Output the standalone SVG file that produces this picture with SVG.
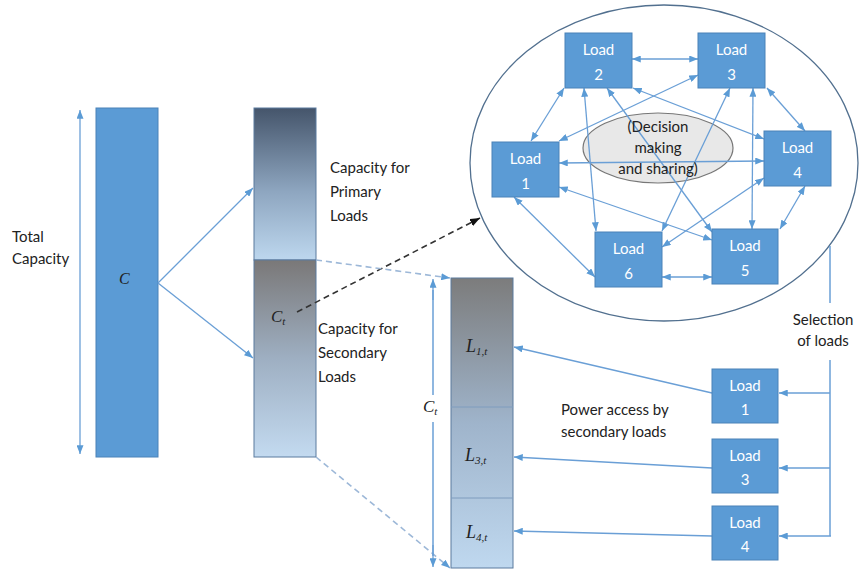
<svg xmlns="http://www.w3.org/2000/svg" width="860" height="572" viewBox="0 0 860 572">
<style>
.t{font-family:Lato,"Liberation Sans",sans-serif;font-size:15px;fill:#222}
.lt{font-family:Lato,"Liberation Sans",sans-serif;font-size:15px;fill:#fff;text-anchor:middle}
.m{font-family:"Liberation Serif","DejaVu Serif",serif;font-style:italic;fill:#222}
.box{fill:#5B9BD5;stroke:#4A82B8;stroke-width:1}
.ar{stroke:#6A9FD6;stroke-width:1.3;fill:none;marker-end:url(#ah)}
.ar2{stroke:#6A9FD6;stroke-width:1.3;fill:none;marker-start:url(#ah);marker-end:url(#ah)}
.ln{stroke:#6A9FD6;stroke-width:1.5;fill:none}
.dl{stroke:#9DB8D8;stroke-width:1.6;stroke-dasharray:6 4;fill:none;marker-end:url(#ah)}
.db{stroke:#333;stroke-width:1.6;stroke-dasharray:6 4;fill:none;marker-end:url(#ahk)}
.bar{stroke:#5A7A9E;stroke-width:1}
</style>
<defs>
<marker id="ah" viewBox="0 0 10 8" refX="10" refY="4" markerWidth="9" markerHeight="7" markerUnits="userSpaceOnUse" orient="auto-start-reverse"><path d="M0,0 L10,4 L0,8 z" fill="#5B9BD5"/></marker>
<marker id="ahk" viewBox="0 0 10 8" refX="10" refY="4" markerWidth="10" markerHeight="8" markerUnits="userSpaceOnUse" orient="auto"><path d="M0,0 L10,4 L0,8 z" fill="#111"/></marker>
<linearGradient id="gPrim" x1="0" y1="0" x2="0" y2="1"><stop offset="0" stop-color="#45556B"/><stop offset="0.55" stop-color="#8EA6C0"/><stop offset="1" stop-color="#BDD7EE"/></linearGradient>
<linearGradient id="gSec" x1="0" y1="0" x2="0" y2="1"><stop offset="0" stop-color="#7A7878"/><stop offset="0.5" stop-color="#9EAFC2"/><stop offset="1" stop-color="#C3DAF0"/></linearGradient>
<linearGradient id="gB3" x1="0" y1="0" x2="0" y2="1"><stop offset="0" stop-color="#7C7C7C"/><stop offset="0.5" stop-color="#9FB4CB"/><stop offset="1" stop-color="#BFD8EF"/></linearGradient>
</defs>

<g id="bar-total">
<rect x="96" y="108" width="62" height="349" fill="#5B9BD5" stroke="#4A82B8"/>
<text class="m" x="119" y="284" font-size="16">C</text>
</g>
<g id="label-total">
<text class="t" x="12" y="242">Total</text>
<text class="t" x="12" y="264">Capacity</text>
</g>

<g id="bar-split">
<rect class="bar" x="254" y="108" width="62" height="152" fill="url(#gPrim)"/>
<rect class="bar" x="254" y="260" width="62" height="197" fill="url(#gSec)"/>
<text class="m" x="271" y="322" font-size="17">C<tspan font-size="11" dy="3">t</tspan></text>
</g>
<g id="label-primary">
<text class="t" x="330" y="173">Capacity for</text>
<text class="t" x="330" y="197">Primary</text>
<text class="t" x="330" y="221">Loads</text>
</g>
<g id="label-secondary">
<text class="t" x="318" y="334">Capacity for</text>
<text class="t" x="318" y="358">Secondary</text>
<text class="t" x="318" y="382">Loads</text>
</g>

<g id="bar-secondary">
<rect class="bar" x="451" y="278" width="62" height="290" fill="url(#gB3)"/>
<line x1="451" y1="407" x2="513" y2="407" stroke="#7E9CBE" stroke-width="1"/>
<line x1="451" y1="498" x2="513" y2="498" stroke="#7E9CBE" stroke-width="1"/>
<text class="m" x="466" y="352" font-size="18">L<tspan font-size="11" dy="3">1,t</tspan></text>
<text class="m" x="465" y="461" font-size="18">L<tspan font-size="11" dy="3">3,t</tspan></text>
<text class="m" x="466" y="538" font-size="18">L<tspan font-size="11" dy="3">4,t</tspan></text>
</g>
<g id="label-ct">
<text class="m" x="423" y="412" font-size="17">C<tspan font-size="11" dy="3">t</tspan></text>
</g>

<g id="cloud">
<ellipse cx="664" cy="163" rx="194" ry="158" fill="none" stroke="#52708F" stroke-width="1.3"/>
<ellipse cx="658" cy="148" rx="75" ry="35" fill="#E8E8E8" stroke="#777" stroke-width="1.2"/>
</g>

<g id="connectors">
<line class="ar2" x1="80" y1="110" x2="80" y2="454"/>
<line class="ar" x1="158" y1="283" x2="253" y2="188"/>
<line class="ar" x1="158" y1="283" x2="253" y2="358"/>
<line class="db" x1="297" y1="312" x2="480" y2="218"/>
<line class="dl" x1="316" y1="260" x2="450" y2="278"/>
<line class="dl" x1="316" y1="457" x2="450" y2="568"/>
<line class="ln" x1="433" y1="290" x2="433" y2="395"/>
<line class="ln" x1="433" y1="422" x2="433" y2="556"/>
<line class="ar" x1="433" y1="300" x2="433" y2="279"/>
<line class="ar" x1="433" y1="545" x2="433" y2="567"/>
<line class="ar2" x1="632" y1="59" x2="698" y2="59"/>
<line class="ar2" x1="564" y1="88" x2="531" y2="141"/>
<line class="ar2" x1="698" y1="75" x2="559" y2="141"/>
<line class="ar2" x1="584" y1="88" x2="596" y2="231"/>
<line class="ar2" x1="607" y1="88" x2="712" y2="232"/>
<line class="ar2" x1="633" y1="88" x2="764" y2="139"/>
<line class="ar2" x1="730" y1="88" x2="662" y2="231"/>
<line class="ar2" x1="753" y1="88" x2="752" y2="229"/>
<line class="ar2" x1="767" y1="88" x2="805" y2="131"/>
<line class="ar2" x1="559" y1="163" x2="764" y2="161"/>
<line class="ar2" x1="559" y1="187" x2="712" y2="240"/>
<line class="ar2" x1="514" y1="197" x2="595" y2="277"/>
<line class="ar2" x1="764" y1="178" x2="662" y2="247"/>
<line class="ar2" x1="805" y1="186" x2="780" y2="229"/>
<line class="ar2" x1="662" y1="277" x2="712" y2="277"/>
<line class="ln" x1="830" y1="246" x2="830" y2="303"/>
<polyline class="ln" points="830,360 830,536"/>
<line class="ar" x1="830" y1="393" x2="779" y2="393"/>
<line class="ar" x1="830" y1="468" x2="779" y2="468"/>
<line class="ar" x1="831" y1="536" x2="779" y2="536"/>
<line class="ar" x1="712" y1="393" x2="514" y2="347"/>
<line class="ar" x1="712" y1="468" x2="514" y2="457"/>
<line class="ar" x1="712" y1="536" x2="514" y2="531"/>
</g>

<g id="decision-label">
<text class="t" x="658" y="132" text-anchor="middle" fill="#333">(Decision</text>
<text class="t" x="658" y="153" text-anchor="middle" fill="#333">making</text>
<text class="t" x="658" y="174" text-anchor="middle" fill="#333">and sharing)</text>
</g>

<g id="load2"><rect class="box" x="565" y="33" width="67" height="55"/><text class="lt" x="598.5" y="55">Load</text><text class="lt" x="598.5" y="80">2</text></g>
<g id="load3"><rect class="box" x="698" y="33" width="67" height="55"/><text class="lt" x="731.5" y="55">Load</text><text class="lt" x="731.5" y="80">3</text></g>
<g id="load1"><rect class="box" x="492" y="142" width="67" height="55"/><text class="lt" x="525.5" y="164">Load</text><text class="lt" x="525.5" y="189">1</text></g>
<g id="load4"><rect class="box" x="764" y="131" width="67" height="55"/><text class="lt" x="797.5" y="153">Load</text><text class="lt" x="797.5" y="178">4</text></g>
<g id="load6"><rect class="box" x="595" y="232" width="67" height="55"/><text class="lt" x="628.5" y="254">Load</text><text class="lt" x="628.5" y="279">6</text></g>
<g id="load5"><rect class="box" x="712" y="229" width="66" height="55"/><text class="lt" x="745" y="251">Load</text><text class="lt" x="745" y="276">5</text></g>

<g id="label-selection">
<text class="t" x="823" y="325" text-anchor="middle">Selection</text>
<text class="t" x="823" y="346" text-anchor="middle">of loads</text>
</g>
<g id="label-power">
<text class="t" x="561" y="415">Power access by</text>
<text class="t" x="561" y="437">secondary loads</text>
</g>

<g id="sel-load1"><rect class="box" x="712" y="369" width="66" height="54"/><text class="lt" x="745" y="391">Load</text><text class="lt" x="745" y="415">1</text></g>
<g id="sel-load3"><rect class="box" x="712" y="439" width="66" height="54"/><text class="lt" x="745" y="461">Load</text><text class="lt" x="745" y="485">3</text></g>
<g id="sel-load4"><rect class="box" x="712" y="506" width="66" height="54"/><text class="lt" x="745" y="528">Load</text><text class="lt" x="745" y="552">4</text></g>
</svg>
